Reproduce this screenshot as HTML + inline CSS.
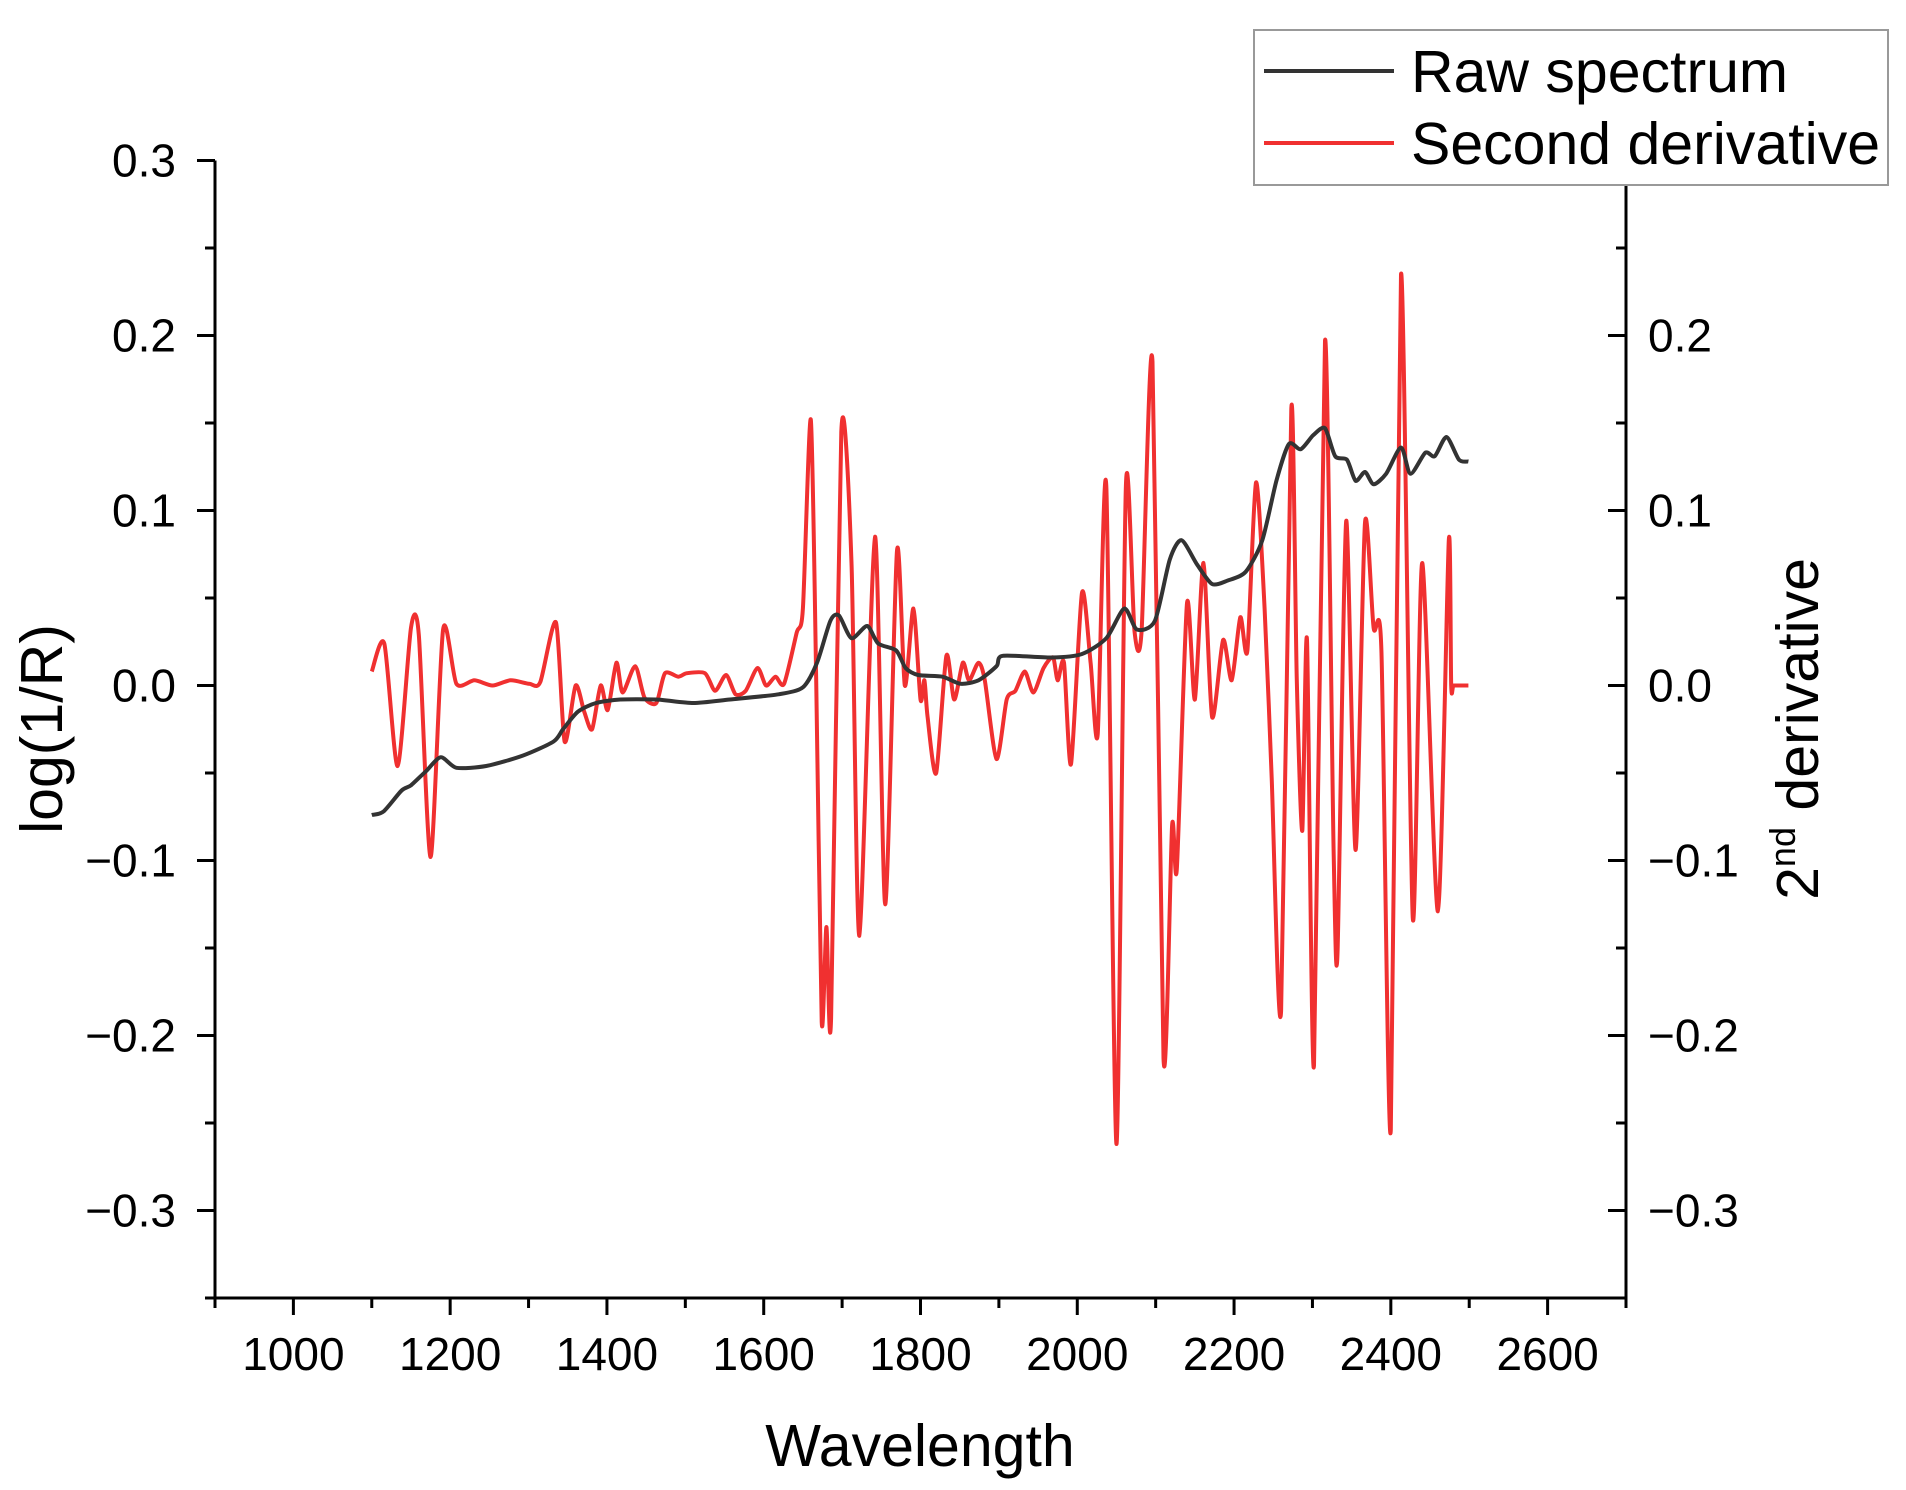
<!DOCTYPE html>
<html><head><meta charset="utf-8"><style>
html,body{margin:0;padding:0;background:#fff;}
svg{display:block;font-family:"Liberation Sans",Arial,sans-serif;}
</style></head><body>
<svg id="chart" width="1906" height="1490" viewBox="0 0 1906 1490" xmlns="http://www.w3.org/2000/svg">
<g id="axes"></g>
<g id="series"></g>
<text x="920" y="1466" font-size="59" text-anchor="middle">Wavelength</text>
<text transform="translate(62,729) rotate(-90)" font-size="59" text-anchor="middle">log(1/R)</text>
<text transform="translate(1818,729) rotate(-90)" font-size="59" text-anchor="middle">2<tspan font-size="36" dy="-23">nd</tspan><tspan dy="23"> derivative</tspan></text>
<g>
<rect x="1254" y="30" width="634" height="155" fill="#fff" stroke="#999" stroke-width="2"/>
<line x1="1264" y1="71" x2="1394" y2="71" stroke="#333" stroke-width="4"/>
<text x="1411" y="92" font-size="59">Raw spectrum</text>
<line x1="1264" y1="143" x2="1394" y2="143" stroke="#f03030" stroke-width="4"/>
<text x="1411" y="164" font-size="59">Second derivative</text>
</g>
</svg>
<script>
const rawWl=[1100,1115,1138,1150,1169,1188,1208,1246,1293,1332,1344,1363,1386,1417,1463,1510,1557,1619,1650,1668,1685,1696,1712,1732,1746,1769,1781,1797,1828,1851,1874,1897,1905,1967,2006,2037,2060,2076,2099,2118,2133,2153,2172,2192,2215,2236,2254,2270,2285,2301,2316,2329,2344,2355,2367,2378,2394,2413,2425,2444,2456,2471,2487,2499];
const rawVal=[-0.074,-0.072,-0.060,-0.057,-0.049,-0.041,-0.047,-0.046,-0.040,-0.032,-0.025,-0.015,-0.010,-0.008,-0.008,-0.010,-0.008,-0.005,-0.001,0.013,0.037,0.040,0.027,0.034,0.024,0.020,0.010,0.006,0.005,0.001,0.003,0.011,0.017,0.016,0.018,0.027,0.044,0.032,0.037,0.072,0.083,0.069,0.058,0.060,0.065,0.083,0.117,0.138,0.135,0.143,0.147,0.131,0.129,0.117,0.122,0.115,0.121,0.136,0.121,0.133,0.131,0.142,0.129,0.128];
const derWl=[1100,1116,1133,1150,1160,1175,1191,1208,1231,1254,1277,1301,1315,1335,1346,1360,1371,1381,1392,1401,1412,1420,1436,1448,1463,1474,1491,1502,1525,1538,1552,1564,1577,1592,1603,1615,1626,1642,1650,1660,1667,1674,1680,1686,1699,1712,1722,1742,1755,1770,1780,1791,1800,1805,1809,1820,1833,1843,1854,1862,1874,1882,1897,1910,1921,1933,1944,1957,1969,1975,1983,1992,2006,2017,2026,2037,2050,2062,2073,2082,2096,2110,2121,2127,2140,2150,2161,2172,2186,2197,2208,2217,2228,2239,2248,2260,2273,2280,2287,2293,2302,2316,2327,2332,2343,2355,2367,2378,2388,2400,2413,2428,2440,2460,2474,2477,2480,2490,2499];
const derVal=[0.008,0.024,-0.046,0.033,0.029,-0.098,0.032,0.001,0.003,0.000,0.003,0.001,0.002,0.036,-0.032,0.000,-0.015,-0.025,0.000,-0.014,0.013,-0.004,0.011,-0.007,-0.010,0.007,0.005,0.007,0.007,-0.003,0.006,-0.005,-0.003,0.010,0.000,0.005,0.001,0.030,0.044,0.152,0.003,-0.192,-0.138,-0.190,0.145,0.070,-0.143,0.085,-0.125,0.077,0.000,0.044,-0.008,0.003,-0.018,-0.050,0.017,-0.008,0.013,0.003,0.013,0.003,-0.042,-0.008,-0.003,0.008,-0.004,0.010,0.016,0.003,0.013,-0.045,0.053,0.013,-0.028,0.114,-0.262,0.114,0.031,0.031,0.185,-0.213,-0.080,-0.105,0.047,-0.008,0.070,-0.018,0.026,0.003,0.039,0.020,0.116,0.044,-0.053,-0.186,0.158,0.003,-0.083,0.026,-0.217,0.197,-0.094,-0.153,0.094,-0.094,0.093,0.033,0.020,-0.254,0.235,-0.133,0.070,-0.129,0.083,0.000,0.000,0.000,0.000];
const xTicks=[1000,1200,1400,1600,1800,2000,2200,2400,2600];
const yTicks=[-0.3,-0.2,-0.1,0.0,0.1,0.2,0.3];

const L=215,R=1626,T=160.5,B=1298;
const X0=900,X1=2700,Y0=-0.35,Y1=0.3;
const xs=v=>L+(v-X0)/(X1-X0)*(R-L);
const ys=v=>B-(v-Y0)/(Y1-Y0)*(B-T);
const NS="http://www.w3.org/2000/svg";
const axes=document.getElementById('axes'), ser=document.getElementById('series');
function mk(tag,attrs,parent){const e=document.createElementNS(NS,tag);for(const k in attrs)e.setAttribute(k,attrs[k]);parent.appendChild(e);return e;}

let e;
e=mk('line',{x1:L,y1:T,x2:L,y2:B+1.5,stroke:'#000','stroke-width':3},axes);


e=mk('line',{x1:R,y1:185,x2:R,y2:B+1.5,stroke:'#000','stroke-width':3},axes);


e=mk('line',{x1:L-1.5,y1:B,x2:R+1.5,y2:B,stroke:'#000','stroke-width':3},axes);



for(let v=X0;v<=X1;v+=100){
  const major=xTicks.includes(v);
  e=mk('line',{x1:xs(v),y1:B,x2:xs(v),y2:B+(major?17:10),stroke:'#000','stroke-width':3},axes);
  
  
}
xTicks.forEach(v=>{
  e=mk('text',{x:xs(v),y:B+72,'font-size':46,'text-anchor':'middle'},axes);
  e.textContent=v;
  
  
});
for(let i=-7;i<=6;i++){
  const v=i*0.05, major=(i%2===0);
  if(ys(v)<T-1)continue;
  e=mk('line',{x1:L-(major?18:10),y1:ys(v),x2:L,y2:ys(v),stroke:'#000','stroke-width':3},axes);
  
  
  if(ys(v)>190){
    e=mk('line',{x1:R-(major?18:10),y1:ys(v),x2:R,y2:ys(v),stroke:'#000','stroke-width':3},axes);
    
    
  }
}
yTicks.forEach(v=>{
  const lab=(v<0?'\u22120':'0')+'.'+Math.round(Math.abs(v)*10);
  e=mk('text',{x:176,y:ys(v)+16,'font-size':46,'text-anchor':'end'},axes);
  e.textContent=lab;
  
  
  if(v<0.25){
    e=mk('text',{x:1648,y:ys(v)+16,'font-size':46,'text-anchor':'start'},axes);
    e.textContent=lab;
    
    
  }
});
function path(wl,vals){
  const p=wl.map((w,i)=>[xs(w),ys(vals[i])]);
  let d='M'+p[0][0].toFixed(1)+','+p[0][1].toFixed(1);
  for(let i=0;i<p.length-1;i++){
    const p0=p[Math.max(0,i-1)],p1=p[i],p2=p[i+1],p3=p[Math.min(p.length-1,i+2)];
    const k=1/8;
    const c1=[p1[0]+(p2[0]-p0[0])*k,p1[1]+(p2[1]-p0[1])*k];
    const c2=[p2[0]-(p3[0]-p1[0])*k,p2[1]-(p3[1]-p1[1])*k];
    d+='C'+c1[0].toFixed(1)+','+c1[1].toFixed(1)+' '+c2[0].toFixed(1)+','+c2[1].toFixed(1)+' '+p2[0].toFixed(1)+','+p2[1].toFixed(1);
  }
  return d;
}
e=mk('path',{d:path(derWl,derVal),fill:'none',stroke:'#f03030','stroke-width':4,'stroke-linejoin':'round'},ser);


e=mk('path',{d:path(rawWl,rawVal),fill:'none',stroke:'#333','stroke-width':4,'stroke-linejoin':'round'},ser);


</script>
</body></html>
